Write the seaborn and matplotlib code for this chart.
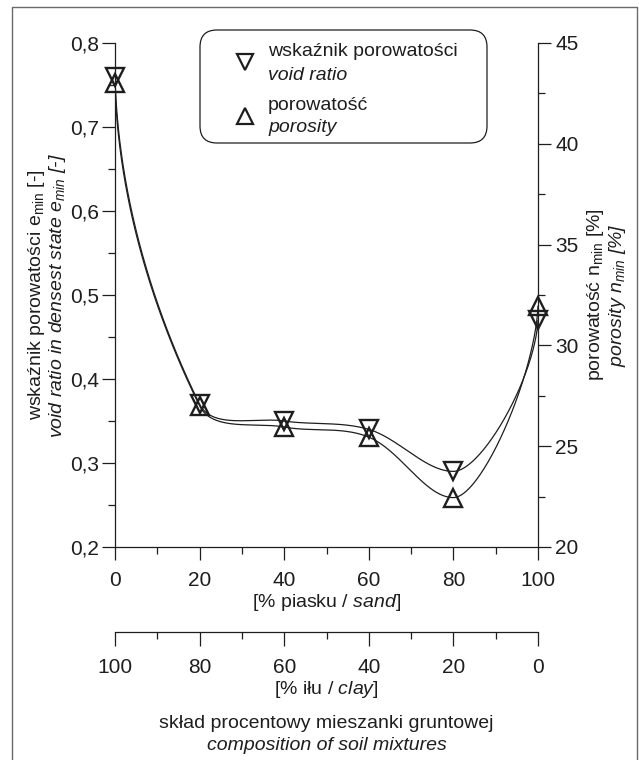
import numpy as np
import matplotlib
matplotlib.use("Agg")
import matplotlib.pyplot as plt
import seaborn as sns
from matplotlib import font_manager as fm
from matplotlib.lines import Line2D
from matplotlib.patches import FancyBboxPatch
from matplotlib.ticker import MultipleLocator, FixedLocator, FuncFormatter

# ---------------- data ----------------
sand_pct = [0, 20, 40, 60, 80, 100]
void_ratio = [0.76, 0.37, 0.35, 0.34, 0.29, 0.47]          # e_min [-]
porosity = [43.0, 27.0, 25.95, 25.45, 22.45, 31.95]        # n_min [%]
left_ticks = [0.2, 0.3, 0.4, 0.5, 0.6, 0.7, 0.8]
right_ticks = [20, 25, 30, 35, 40, 45]
sand_ticks = [0, 20, 40, 60, 80, 100]
clay_ticks = [100, 80, 60, 40, 20, 0]

# ---------------- style ----------------
sns.set_theme(style="ticks")
names = {f.name for f in fm.fontManager.ttflist}
FONT = "Liberation Sans Narrow" if "Liberation Sans Narrow" in names else "Liberation Sans"
plt.rcParams["font.family"] = [FONT, "DejaVu Sans"]
plt.rcParams["mathtext.fontset"] = "custom"
plt.rcParams["mathtext.rm"] = FONT
plt.rcParams["mathtext.it"] = FONT + ":italic"
plt.rcParams["mathtext.bf"] = FONT + ":bold"
INK = "#1e1e1e"

W, H = 639, 760
fig = plt.figure(figsize=(W / 100, H / 100), dpi=100)
fig.patch.set_facecolor("white")
ax = fig.add_axes([115 / W, 1 - 547 / H, 423 / W, 504 / H])
ax2 = ax.twinx()
AXW, AXH = 423.0, 504.0


def smooth_curve(xv, yv, lo, hi, n=80):
    """Smooth drawing path through the data points (cubic Hermite segments,
    computed in screen proportions)."""
    P = np.column_stack([np.asarray(xv, float) / 100.0 * AXW,
                         (np.asarray(yv, float) - lo) / (hi - lo) * AXH])
    m = len(P)
    D = np.zeros_like(P)
    extremum = np.zeros(m, bool)
    for i in range(m):
        if i == 0:
            d = P[1] - P[0]
            d = np.array([0.1 * d[0], d[1]])
        elif i == m - 1:
            d = P[-1] - P[-2]
            d = np.array([0.1 * d[0], d[1]])
        else:
            d = (P[i + 1] - P[i - 1]).copy()
            if (P[i, 1] - P[i - 1, 1]) * (P[i + 1, 1] - P[i, 1]) <= 0:
                d[1] = 0.0
                extremum[i] = True
        D[i] = d / np.hypot(*d)
    s = np.linspace(0, 1, n)[:, None]
    h00 = 2 * s ** 3 - 3 * s ** 2 + 1
    h10 = s ** 3 - 2 * s ** 2 + s
    h01 = -2 * s ** 3 + 3 * s ** 2
    h11 = s ** 3 - s ** 2
    pts = []
    for i in range(m - 1):
        c = np.hypot(*(P[i + 1] - P[i]))
        dx = P[i + 1, 0] - P[i, 0]
        ca = dx if extremum[i] else c
        cb = dx if extremum[i + 1] else c
        seg = h00 * P[i] + h10 * D[i] * ca + h01 * P[i + 1] + h11 * D[i + 1] * cb
        pts.append(seg if i == 0 else seg[1:])
    pts = np.vstack(pts)
    return pts[:, 0] / AXW * 100.0, pts[:, 1] / AXH * (hi - lo) + lo


ex, ey = smooth_curve(sand_pct, void_ratio, 0.2, 0.8)
nx, ny = smooth_curve(sand_pct, porosity, 20, 45)

sns.lineplot(x=ex, y=ey, ax=ax, sort=False, estimator=None, color=INK, lw=0.9, legend=False)
sns.lineplot(x=nx, y=ny, ax=ax2, sort=False, estimator=None, color=INK, lw=0.9, legend=False)

mk = dict(linestyle="", markersize=13, markerfacecolor="none", markeredgecolor=INK,
          markeredgewidth=1.7, color=INK, legend=False, clip_on=False, zorder=5)
sns.lineplot(x=sand_pct, y=void_ratio, ax=ax, marker="v", **mk)
sns.lineplot(x=sand_pct, y=porosity, ax=ax2, marker="^", **mk)

# ---------------- axes ----------------
ax.set_xlim(0, 100)
ax.set_ylim(0.2, 0.8)
ax2.set_ylim(20, 45)
for a in (ax, ax2):
    a.set_facecolor("none")
    for s in a.spines.values():
        s.set_color(INK)
        s.set_linewidth(0.9)
ax.spines["top"].set_visible(False)
ax.spines["right"].set_visible(False)
ax2.spines["top"].set_visible(False)
ax2.spines["left"].set_visible(False)
ax2.spines["bottom"].set_visible(False)

ax.xaxis.set_major_locator(FixedLocator(sand_ticks))
ax.xaxis.set_minor_locator(MultipleLocator(10))
ax.yaxis.set_major_locator(FixedLocator(left_ticks))
ax.yaxis.set_minor_locator(MultipleLocator(0.05))
ax.yaxis.set_major_formatter(FuncFormatter(lambda v, p: f"{v:.1f}".replace(".", ",")))
ax2.yaxis.set_major_locator(FixedLocator(right_ticks))
ax2.yaxis.set_minor_locator(MultipleLocator(2.5))

ax.tick_params(axis="both", which="major", direction="out", length=9.5, width=0.9,
               color=INK, labelcolor=INK, labelsize=15)
ax.tick_params(axis="both", which="minor", direction="out", length=5, width=0.9, color=INK)
ax.tick_params(axis="y", which="major", pad=2)
ax.tick_params(axis="x", which="major", pad=7.5)
ax2.tick_params(axis="y", which="major", direction="out", length=9, width=0.9,
                color=INK, labelcolor=INK, labelsize=15, pad=3.5)
ax2.tick_params(axis="y", which="minor", direction="out", length=5, width=0.9, color=INK)
ax2.set_ylabel("")
ax.set_ylabel("")

ax.set_xlabel(r"[% piasku / $\mathit{sand}$]", fontsize=14, color=INK, labelpad=2)

# second (clay) axis
sec = ax.secondary_xaxis(-(632 - 547) / AXH, functions=(lambda x: 100 - x, lambda x: 100 - x))
sec.xaxis.set_major_locator(FixedLocator(clay_ticks))
sec.xaxis.set_minor_locator(MultipleLocator(10))
sec.spines["bottom"].set_color(INK)
sec.spines["bottom"].set_linewidth(0.9)
sec.tick_params(axis="x", which="major", direction="out", length=10, width=0.9,
                color=INK, labelcolor=INK, labelsize=15, pad=8.5)
sec.tick_params(axis="x", which="minor", direction="out", length=5, width=0.9, color=INK)
sec.set_xlabel(r"[% iłu / $\mathit{clay}$]", fontsize=14, color=INK, labelpad=2)

# y labels (two lines each)
ax.text((37 - 115) / AXW, 0.5, r"wskaźnik porowatości e$_{\mathrm{min}}$ [-]", rotation=90,
        transform=ax.transAxes, ha="center", va="center", fontsize=14, color=INK)
ax.text((58 - 115) / AXW, 0.5, r"void ratio in densest state e$_{min}$ [-]", rotation=90,
        transform=ax.transAxes, ha="center", va="center", fontsize=14, color=INK, style="italic")
ax.text((595 - 115) / AXW, 0.5, r"porowatość n$_{\mathrm{min}}$ [%]", rotation=90,
        transform=ax.transAxes, ha="center", va="center", fontsize=14, color=INK)
ax.text((617 - 115) / AXW, 0.5, r"porosity n$_{min}$ [%]", rotation=90,
        transform=ax.transAxes, ha="center", va="center", fontsize=14, color=INK, style="italic")

# bottom titles
fig.text(0.5 * (115 + 538) / W, 1 - 723 / H, "skład procentowy mieszanki gruntowej",
         ha="center", va="center", fontsize=14, color=INK)
fig.text(0.5 * (115 + 538) / W, 1 - 745 / H, "composition of soil mixtures",
         ha="center", va="center", fontsize=14, color=INK, style="italic")

# legend: rounded frame + entries
frame = FancyBboxPatch((200 / 100, (H - 143) / 100), 287 / 100, 113 / 100,
                       boxstyle="round,pad=0,rounding_size=0.17",
                       transform=fig.dpi_scale_trans, facecolor="white",
                       edgecolor=INK, linewidth=0.9, zorder=10)
fig.add_artist(frame)
legend_entries = [
    ("v", 62, "wskaźnik porowatości", "void ratio", 52, 75),
    ("^", 116, "porowatość", "porosity", 105, 127),
]
for mkr, my, l1, l2, y1, y2 in legend_entries:
    fig.add_artist(Line2D([245 / W], [1 - my / H], marker=mkr, ls="", ms=11, mfc="none",
                          mec=INK, mew=1.6, transform=fig.transFigure, zorder=11))
    fig.text(268 / W, 1 - y1 / H, l1, ha="left", va="center", fontsize=14, color=INK, zorder=11)
    fig.text(268 / W, 1 - y2 / H, l2, ha="left", va="center", fontsize=14, color=INK,
             style="italic", zorder=11)

# outer frame
fig.add_artist(Line2D([12 / W, 12 / W, 637 / W, 637 / W], [0, 1 - 7 / H, 1 - 7 / H, 0],
                      transform=fig.transFigure, color="#6a6a6a", lw=1.0))

fig.savefig("out.png", dpi=100, facecolor="white")
